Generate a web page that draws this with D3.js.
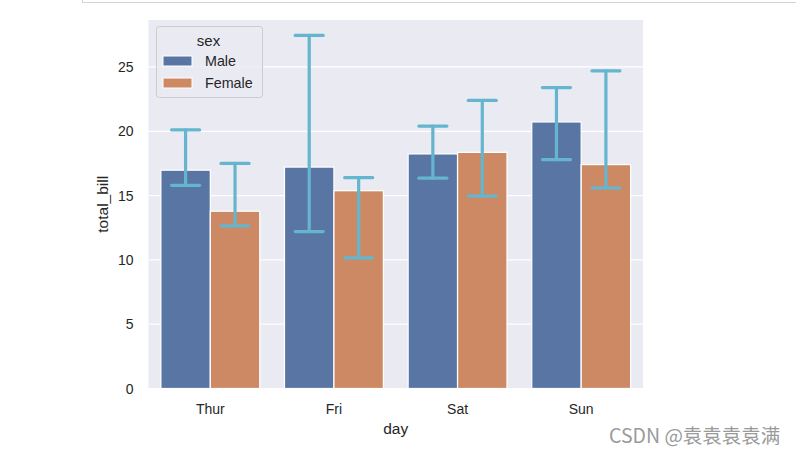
<!DOCTYPE html>
<html>
<head>
<meta charset="utf-8">
<script src="https://cdn.jsdelivr.net/npm/d3@7"></script>
<style>
  body { margin: 0; background: #fff; }
  svg { display: block; font-family: Arial, "Liberation Sans", sans-serif; }
</style>
</head>
<body>
<div id="chart"></div>
<script>
// data: median total_bill per day / sex, with error interval
const days = ["Thur", "Fri", "Sat", "Sun"];
const sexes = ["Male", "Female"];
const maleVals = [16.975, 17.215, 18.24, 20.725];
const femaleVals = [13.785, 15.38, 18.36, 17.41];
const maleLow = [15.8, 12.2, 16.35, 17.8];
const maleHigh = [20.1, 27.45, 20.4, 23.4];
const femaleLow = [12.65, 10.15, 14.95, 15.6];
const femaleHigh = [17.5, 16.4, 22.4, 24.7];
const yTicks = [0, 5, 10, 15, 20, 25];

const colors = { Male: "#5875a4", Female: "#cc8963" };
const errColor = "#64b5cd";
const textColor = "#262626";

const W = 796, H = 454;
const margin = { left: 148.5, right: W - 643, top: 20, bottom: H - 388.5 };

const svg = d3.select("#chart").append("svg")
  .attr("width", W).attr("height", H);

// notebook cell border at the top
svg.append("path")
  .attr("d", `M82.5,0 V2.5 H${W}`)
  .attr("fill", "none")
  .attr("stroke", "#d4d4d4")
  .attr("stroke-width", 1);

const x0 = d3.scaleBand().domain(days)
  .range([margin.left, W - margin.right]).paddingInner(0.2).paddingOuter(0.1);
const x1 = d3.scaleBand().domain(sexes).range([0, x0.bandwidth()]);
const y = d3.scaleLinear().domain([0, 28.65]).range([H - margin.bottom, margin.top]);

// axes background
svg.append("rect")
  .attr("x", margin.left).attr("y", margin.top)
  .attr("width", W - margin.left - margin.right)
  .attr("height", H - margin.top - margin.bottom)
  .attr("fill", "#eaeaf2");

// grid
svg.append("g")
  .selectAll("line")
  .data(yTicks)
  .enter().append("line")
  .attr("x1", margin.left).attr("x2", W - margin.right)
  .attr("y1", (d) => y(d)).attr("y2", (d) => y(d))
  .attr("stroke", "#fff").attr("stroke-width", 1.25);

// build rows from the arrays
const rows = [];
days.forEach((d, i) => {
  rows.push({ day: d, sex: "Male", v: maleVals[i], lo: maleLow[i], hi: maleHigh[i] });
  rows.push({ day: d, sex: "Female", v: femaleVals[i], lo: femaleLow[i], hi: femaleHigh[i] });
});

// bars
svg.append("g")
  .selectAll("rect")
  .data(rows)
  .enter().append("rect")
  .attr("x", (d) => x0(d.day) + x1(d.sex))
  .attr("y", (d) => y(d.v))
  .attr("width", x1.bandwidth())
  .attr("height", (d) => y(0) - y(d.v))
  .attr("fill", (d) => colors[d.sex])
  .attr("stroke", "#fff")
  .attr("stroke-width", 1.25);

// error bars
const capW = 14;
const eb = svg.append("g")
  .attr("stroke", errColor)
  .attr("stroke-width", 3.2)
  .attr("stroke-linecap", "round");
rows.forEach((d) => {
  const cx = x0(d.day) + x1(d.sex) + x1.bandwidth() / 2;
  eb.append("line").attr("x1", cx).attr("x2", cx).attr("y1", y(d.lo)).attr("y2", y(d.hi));
  eb.append("line").attr("x1", cx - capW).attr("x2", cx + capW).attr("y1", y(d.lo)).attr("y2", y(d.lo));
  eb.append("line").attr("x1", cx - capW).attr("x2", cx + capW).attr("y1", y(d.hi)).attr("y2", y(d.hi));
});

// y tick labels
svg.append("g")
  .selectAll("text")
  .data(yTicks)
  .enter().append("text")
  .attr("x", 133.5)
  .attr("y", (d) => y(d))
  .attr("dy", "0.36em")
  .attr("text-anchor", "end")
  .attr("fill", textColor)
  .style("font-size", "14px")
  .text((d) => d);

// x tick labels
svg.append("g")
  .selectAll("text")
  .data(days)
  .enter().append("text")
  .attr("x", (d) => x0(d) + x0.bandwidth() / 2)
  .attr("y", 414)
  .attr("text-anchor", "middle")
  .attr("fill", textColor)
  .style("font-size", "14px")
  .text((d) => d);

// axis labels
svg.append("text")
  .attr("x", (margin.left + W - margin.right) / 2)
  .attr("y", 434)
  .attr("text-anchor", "middle")
  .attr("fill", textColor)
  .style("font-size", "15.5px")
  .text("day");

svg.append("text")
  .attr("transform", `translate(108,${(margin.top + H - margin.bottom) / 2}) rotate(-90)`)
  .attr("text-anchor", "middle")
  .attr("fill", textColor)
  .style("font-size", "15.5px")
  .text("total_bill");

// legend
const lg = svg.append("g").attr("transform", "translate(156.5,26.5)");
lg.append("rect")
  .attr("width", 106).attr("height", 71).attr("rx", 3)
  .attr("fill", "#eaeaf2").attr("fill-opacity", 0.8)
  .attr("stroke", "#cccccc").attr("stroke-width", 1);
lg.append("text")
  .attr("x", 52).attr("y", 19)
  .attr("text-anchor", "middle")
  .attr("fill", textColor)
  .style("font-size", "15px")
  .text("sex");
sexes.forEach((s, i) => {
  lg.append("rect")
    .attr("x", 6.5).attr("y", 29.5 + i * 22)
    .attr("width", 29).attr("height", 10)
    .attr("fill", colors[s]).attr("stroke", "#fff").attr("stroke-width", 1);
  lg.append("text")
    .attr("x", 48.5).attr("y", 34.5 + i * 22)
    .attr("dy", "0.36em")
    .attr("fill", textColor)
    .style("font-size", "14.3px")
    .text(s);
});

// watermark
svg.append("text")
  .attr("x", 609).attr("y", 443)
  .attr("fill", "#9a9a9a")
  .style("font-family", "'Noto Sans CJK SC', sans-serif")
  .style("font-size", "19.5px")
  .text("CSDN @袁袁袁袁满");
</script>
</body>
</html>
